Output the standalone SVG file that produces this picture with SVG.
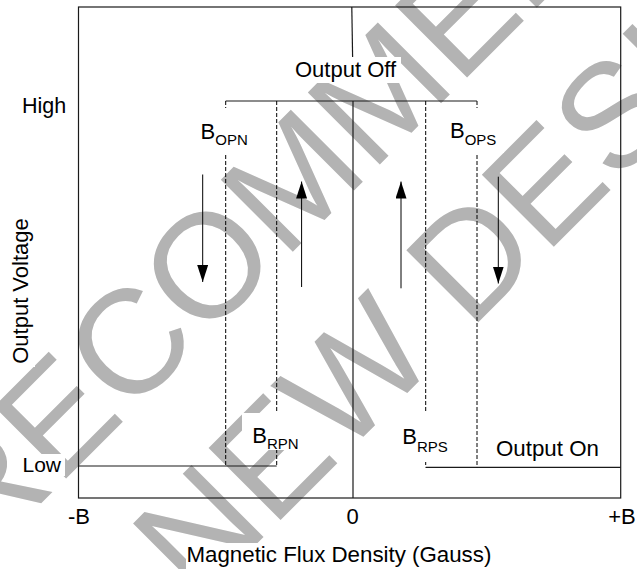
<svg xmlns="http://www.w3.org/2000/svg" width="637" height="569" viewBox="0 0 637 569">
  <defs>
    <style>
      .wm { font-family: "Liberation Sans", Arial, sans-serif; font-size: 148px; fill: #b3b3b3; text-anchor: middle; }
      .lbl { font-family: "Liberation Sans", Arial, sans-serif; font-size: 22px; fill: #000; }
      .sub { font-size: 15px; }
      .solid { stroke: #1a1a1a; stroke-width: 1.2; fill: none; }
      .dash { stroke: #000; stroke-width: 1; stroke-dasharray: 4 2; fill: none; }
      .arrow { stroke: #000; stroke-width: 1; fill: none; marker-end: url(#head); }
      .box { fill: #fff; stroke: none; }
    </style>
    <marker id="head" markerUnits="userSpaceOnUse" markerWidth="17" markerHeight="11" viewBox="0 0 17 11" refX="17" refY="5.5" orient="auto">
      <path d="M0,0 L17,5.5 L0,11 Z" fill="#000"/>
    </marker>
  </defs>
  <rect width="637" height="569" fill="#fff"/>

  <g id="watermark" transform="rotate(-45)">
    <text class="wm" x="10" y="385">NOT RECOMMENDED</text>
    <text class="wm" x="12" y="566">FOR NEW DESIGN</text>
  </g>

  <g id="connectors">
    <rect id="frame" class="solid" x="78.5" y="7" width="542.2" height="491"/>
    <line class="solid" x1="351.8" y1="7" x2="352.6" y2="57"/>
    <line class="solid" x1="353" y1="101" x2="353" y2="498"/>
    <line class="solid" x1="225.7" y1="101" x2="476.9" y2="101"/>
    <line class="solid" x1="78.5" y1="466" x2="276.7" y2="466"/>
    <line class="solid" x1="425.7" y1="467.3" x2="620.7" y2="467.3"/>
    <line class="dash" x1="225.7" y1="101" x2="225.7" y2="466"/>
    <line class="dash" x1="276.7" y1="101" x2="276.7" y2="466"/>
    <line class="dash" x1="425.7" y1="101" x2="425.7" y2="467.3"/>
    <line class="dash" x1="477" y1="101" x2="477" y2="467.3"/>
    <line class="arrow" x1="202.7" y1="174.5" x2="202.7" y2="282"/>
    <line class="arrow" x1="301.6" y1="287" x2="301.6" y2="181.5"/>
    <line class="arrow" x1="401" y1="288.3" x2="401" y2="181.5"/>
    <line class="arrow" x1="498.3" y1="176.7" x2="498.3" y2="283.5"/>
  </g>

  <g id="output-off">
    <rect class="box" x="292" y="57" width="109" height="26"/>
    <text class="lbl" x="295" y="77.3">Output Off</text>
  </g>
  <g id="output-on">
    <rect class="box" x="493" y="437" width="111" height="25"/>
    <text class="lbl" x="496" y="456" style="font-size:22.3px">Output On</text>
  </g>
  <g id="b-opn">
    <rect class="box" x="190" y="108" width="66" height="46"/>
    <text class="lbl" x="200.6" y="139">B<tspan class="sub" dy="6">OPN</tspan></text>
  </g>
  <g id="b-ops">
    <rect class="box" x="440" y="108" width="64" height="45"/>
    <text class="lbl" x="450" y="138">B<tspan class="sub" dy="6.5">OPS</tspan></text>
  </g>
  <g id="b-rpn">
    <rect class="box" x="242" y="413" width="66" height="37"/>
    <text class="lbl" x="252.3" y="443">B<tspan class="sub" dy="6">RPN</tspan></text>
  </g>
  <g id="b-rps">
    <rect class="box" x="393" y="413" width="64" height="49"/>
    <text class="lbl" x="402.3" y="443.5">B<tspan class="sub" dy="8">RPS</tspan></text>
  </g>
  <g id="axis-labels">
    <rect class="box" x="19" y="95" width="50" height="24"/>
    <text class="lbl" x="22" y="113.3" style="font-size:21.5px">High</text>
    <rect class="box" x="20" y="454" width="45" height="22"/>
    <text class="lbl" x="22.5" y="471.7" style="font-size:21px">Low</text>
    <rect class="box" x="66" y="506" width="26" height="22"/>
    <text class="lbl" x="79" y="524" text-anchor="middle">-B</text>
    <rect class="box" x="344" y="506" width="17" height="22"/>
    <text class="lbl" x="352.5" y="524.3" text-anchor="middle">0</text>
    <rect class="box" x="606" y="506" width="31" height="22"/>
    <text class="lbl" x="622" y="524" text-anchor="middle">+B</text>
    <rect class="box" x="186" y="543" width="310" height="26"/>
    <text class="lbl" x="186.5" y="561.7" style="font-size:22.3px">Magnetic Flux Density (Gauss)</text>
    <rect class="box" x="10" y="215" width="25" height="152"/>
    <text class="lbl" transform="translate(28,291) rotate(-90)" text-anchor="middle">Output Voltage</text>
  </g>
</svg>
